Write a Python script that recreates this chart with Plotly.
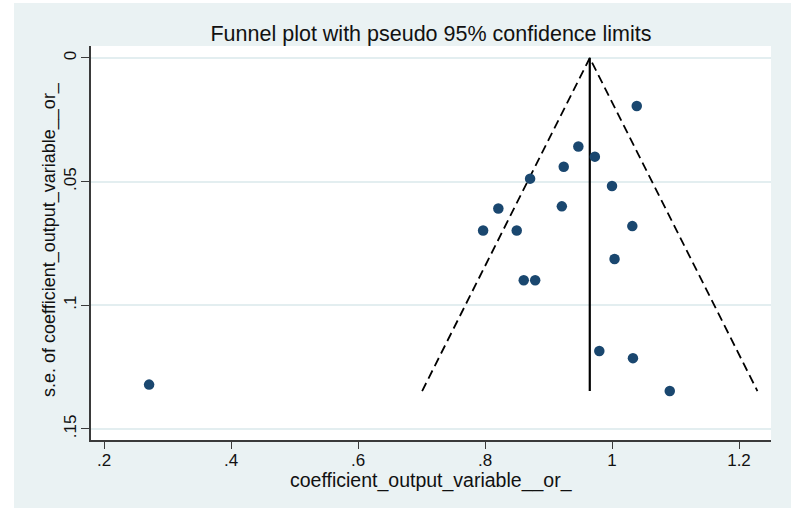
import plotly.graph_objects as go

# Study estimates (effect size) and their standard errors
effect = [1.039, 0.947, 0.973, 0.924, 0.871, 1.000, 0.821, 0.921, 1.032,
          0.797, 0.850, 1.004, 0.861, 0.879, 0.980, 1.033, 1.091, 0.271]
se = [0.0194, 0.0358, 0.0399, 0.0440, 0.0488, 0.0518, 0.0609, 0.0600, 0.0680,
      0.0698, 0.0698, 0.0813, 0.0899, 0.0899, 0.1185, 0.1214, 0.1347, 0.1321]

pooled = 0.965          # pooled (fixed-effect) estimate
z95 = 1.96

x_ticks = [0.2, 0.4, 0.6, 0.8, 1.0, 1.2]
x_labels = [".2", ".4", ".6", ".8", "1", "1.2"]
y_ticks = [0, 0.05, 0.1, 0.15]
y_labels = ["0", ".05", ".1", ".15"]

title_text = "Funnel plot with pseudo 95% confidence limits"
x_title = "coefficient_output_variable__or_"
y_title = "s.e. of coefficient_output_variable__or_"

se_max = max(se)
navy = "#1a476f"
bg = "#eaf2f3"
axis_col = "#3a3a3a"
font_fam = "Liberation Sans, Arial, sans-serif"

fig = go.Figure()

# pseudo 95% confidence limits
fig.add_trace(go.Scatter(
    x=[pooled - z95 * se_max, pooled, pooled + z95 * se_max],
    y=[se_max, 0, se_max],
    mode="lines", line=dict(color="black", width=1.8, dash="9px,5px"),
    showlegend=False, hoverinfo="skip"))
# pooled estimate line
fig.add_trace(go.Scatter(
    x=[pooled, pooled], y=[0, se_max],
    mode="lines", line=dict(color="black", width=2.2),
    showlegend=False, hoverinfo="skip"))
# studies
fig.add_trace(go.Scatter(
    x=effect, y=se, mode="markers",
    marker=dict(color=navy, size=10.5, line=dict(width=0)),
    showlegend=False))

W, H = 796, 508
ml, mr, mt, mb = 91, 25, 46, 68
pw, ph = W - ml - mr, H - mt - mb

def px_x(p):
    return (p - ml) / pw

def px_y(p):
    return (H - mb - p) / ph

fig.update_layout(
    width=W, height=H,
    margin=dict(l=ml, r=mr, t=mt, b=mb, pad=0, autoexpand=False),
    paper_bgcolor="white", plot_bgcolor="white",
    font=dict(family=font_fam, color="black"),
    title=dict(text=title_text,
               x=0.5, xref="paper", xanchor="center",
               y=1 - 33 / H, yref="container", yanchor="middle",
               font=dict(size=21.5, color="#111")),
    shapes=[
        dict(type="rect", xref="paper", yref="paper", layer="below",
             x0=px_x(14), x1=px_x(791), y0=px_y(508), y1=px_y(3),
             fillcolor=bg, line=dict(width=0)),
        dict(type="rect", xref="paper", yref="paper", layer="below",
             x0=0, x1=1, y0=0, y1=1,
             fillcolor="white", line=dict(width=0)),
    ],
    annotations=[
        dict(text=x_title, xref="paper", yref="paper",
             x=0.5, y=px_y(480), xanchor="center", yanchor="middle",
             showarrow=False, font=dict(size=19.5, color="#111")),
        dict(text=y_title, xref="paper", yref="paper",
             x=px_x(49), y=px_y(240), xanchor="center", yanchor="middle",
             textangle=-90, showarrow=False,
             font=dict(size=18, color="#111")),
    ],
)

fig.update_xaxes(
    range=[0.1795, 1.2504], tickvals=x_ticks, ticktext=x_labels,
    automargin=False, ticklabelstandoff=-3,
    showgrid=False, zeroline=False,
    showline=True, linecolor=axis_col, linewidth=1.5,
    ticks="outside", ticklen=7, tickwidth=1, tickcolor=axis_col,
    tickfont=dict(size=17, color="#111"),
)
fig.update_yaxes(
    range=[0.1545, -0.00485], tickvals=y_ticks, ticktext=y_labels,
    tickangle=-90, automargin=False, ticklabelstandoff=-2,
    showgrid=True, gridcolor="#e3eef0", gridwidth=1.5, zeroline=False,
    showline=True, linecolor=axis_col, linewidth=1.5,
    ticks="outside", ticklen=8, tickwidth=1, tickcolor=axis_col,
    tickfont=dict(size=17, color="#111"),
)

fig.write_html("out.html",
               config={"displayModeBar": False},
               post_script="document.body.style.margin='0';")
